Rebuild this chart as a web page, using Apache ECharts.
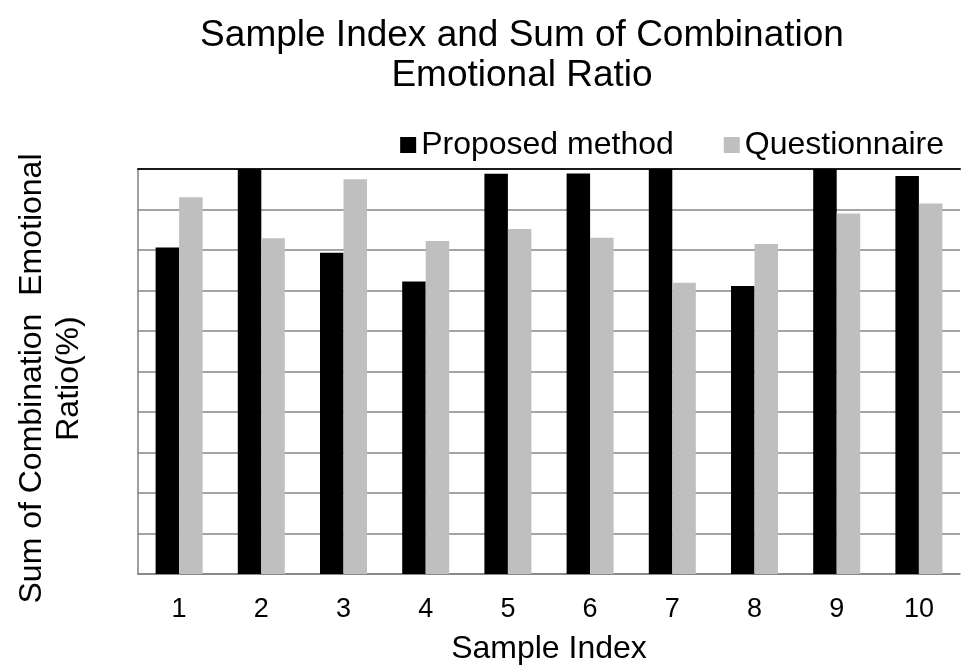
<!DOCTYPE html>
<html>
<head>
<meta charset="utf-8">
<title>Sample Index and Sum of Combination Emotional Ratio</title>
<script src="https://cdn.jsdelivr.net/npm/echarts@6/dist/echarts.min.js"></script>
<style>
  html, body { margin: 0; padding: 0; background: #ffffff; }
  #chart { width: 961px; height: 670px; }
</style>
</head>
<body>
<div id="chart"></div>
<script>
// Sample indices on the x axis
const categories = ['1', '2', '3', '4', '5', '6', '7', '8', '9', '10'];
// Sum of combination emotional ratio (%) per sample
const proposedMethod = [80.6, 100, 79.3, 72.2, 98.8, 98.9, 100, 71.1, 100, 98.3];
const questionnaire  = [93.0, 82.9, 97.5, 82.2, 85.2, 83.0, 71.9, 81.5, 89.0, 91.5];

const FONT = '"Liberation Sans", Arial, sans-serif';

const chart = echarts.init(document.getElementById('chart'), null, { renderer: 'canvas' });

chart.setOption({
  animation: false,
  backgroundColor: '#ffffff',
  textStyle: { fontFamily: FONT, color: '#000000' },
  title: {
    text: 'Sample Index and Sum of Combination\nEmotional Ratio',
    left: 517,
    top: 11,
    textAlign: 'center',
    textStyle: {
      fontFamily: FONT,
      fontSize: 37,
      fontWeight: 'normal',
      color: '#000000',
      lineHeight: 40
    }
  },
  legend: {
    right: 12,
    top: 124,
    itemWidth: 16,
    itemHeight: 16,
    itemGap: 50,
    icon: 'rect',
    textStyle: { fontFamily: FONT, fontSize: 32, color: '#000000', padding: [0, 0, 0, 0] },
    data: ['Proposed method', 'Questionnaire']
  },
  grid: {
    left: 138,
    right: 1,
    top: 169,
    bottom: 92,
    containLabel: false
  },
  xAxis: [
    {
      type: 'category',
      data: categories,
      name: 'Sample Index',
      nameLocation: 'middle',
      nameGap: 59,
      nameTextStyle: { fontFamily: FONT, fontSize: 32, color: '#000000' },
      axisLine: { show: true, lineStyle: { color: '#808080', width: 1.5 } },
      axisTick: { show: false },
      axisLabel: { fontFamily: FONT, fontSize: 27, color: '#000000', margin: 22 }
    },
    {
      type: 'category',
      data: categories,
      position: 'top',
      axisLine: { show: true, lineStyle: { color: '#1a1a1a', width: 2 } },
      axisTick: { show: false },
      axisLabel: { show: false }
    }
  ],
  yAxis: {
    type: 'value',
    min: 0,
    max: 100,
    interval: 10,
    name: 'Sum of Combination  Emotional\nRatio(%)',
    nameLocation: 'middle',
    nameGap: 50,
    nameRotate: 90,
    nameTextStyle: {
      fontFamily: FONT,
      fontSize: 32,
      color: '#000000',
      lineHeight: 37,
      padding: [0, 14, 0, 0]
    },
    axisLine: { show: true, lineStyle: { color: '#808080', width: 1.5 } },
    axisTick: { show: false },
    axisLabel: { show: false },
    splitLine: { show: true, lineStyle: { color: '#868686', width: 1.5 } }
  },
  series: [
    {
      name: 'Proposed method',
      type: 'bar',
      data: proposedMethod,
      barWidth: 23.5,
      barGap: '0%',
      itemStyle: { color: '#000000' }
    },
    {
      name: 'Questionnaire',
      type: 'bar',
      data: questionnaire,
      barWidth: 23.5,
      barGap: '0%',
      itemStyle: { color: '#bfbfbf' }
    }
  ]
});
</script>
</body>
</html>
